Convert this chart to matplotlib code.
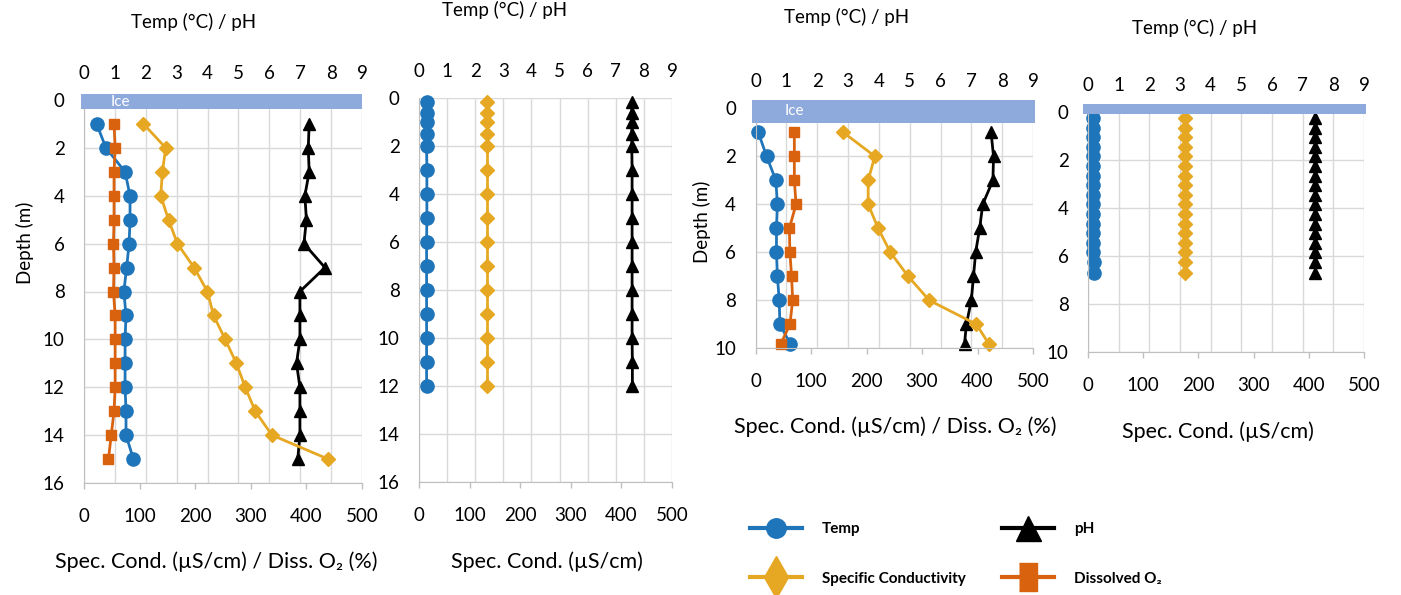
import matplotlib
matplotlib.use("Agg")
import matplotlib.pyplot as plt
from matplotlib.lines import Line2D
from matplotlib.patches import Rectangle

plt.rcParams['font.family'] = ['Lato', 'DejaVu Sans']

W, H = 1401, 595

# ---------------- data ----------------
# Panel 1
depth1 = [1, 2, 3, 4, 5, 6, 7, 8, 9, 10, 11, 12, 13, 14, 15]
temp1 = [0.41, 0.71, 1.33, 1.49, 1.49, 1.46, 1.38, 1.29, 1.36, 1.33, 1.33, 1.33, 1.36, 1.36, 1.60]
ph1 = [7.29, 7.26, 7.29, 7.15, 7.20, 7.12, 7.80, 6.99, 6.99, 6.99, 6.88, 6.99, 6.99, 6.99, 6.92]
sc1 = [107, 147, 141, 138, 152, 168, 198, 222, 233, 254, 274, 290, 308, 338, 439]
do1 = [54, 56, 54, 54, 54, 53, 54, 53, 56, 56, 56, 56, 54, 49, 44]

# Panel 2
depth2 = [0.15, 0.6, 1.0, 1.5, 2.0, 3, 4, 5, 6, 7, 8, 9, 10, 11, 12]
temp2 = [0.27, 0.27, 0.27, 0.27, 0.27, 0.28, 0.28, 0.28, 0.27, 0.27, 0.27, 0.27, 0.27, 0.27, 0.27]
ph2 = [7.57, 7.57, 7.57, 7.57, 7.57, 7.58, 7.58, 7.58, 7.58, 7.58, 7.58, 7.58, 7.58, 7.59, 7.59]
sc2 = [134, 134, 134, 134, 134, 134, 134, 134, 134, 134, 134, 134, 134, 134, 134]

# Panel 3
depth3 = [1, 2, 3, 4, 5, 6, 7, 8, 9, 9.8]
temp3 = [0.09, 0.36, 0.66, 0.71, 0.68, 0.68, 0.71, 0.77, 0.79, 1.12]
ph3 = [7.64, 7.72, 7.70, 7.37, 7.27, 7.14, 7.07, 7.00, 6.84, 6.78]
sc3 = [158, 215, 203, 203, 221, 243, 275, 313, 398, 420]
do3 = [70, 70, 70, 73, 61, 62, 65, 67, 62, 46]

# Panel 4
depth4 = [0.25, 0.65, 1.05, 1.45, 1.85, 2.25, 2.65, 3.05, 3.45, 3.85, 4.25, 4.65, 5.05, 5.45, 5.85, 6.25, 6.7]
temp4 = [0.17, 0.17, 0.17, 0.17, 0.17, 0.17, 0.17, 0.17, 0.17, 0.17, 0.17, 0.17, 0.17, 0.17, 0.17, 0.18, 0.20]
ph4 = [7.40, 7.40, 7.40, 7.40, 7.40, 7.40, 7.40, 7.40, 7.40, 7.40, 7.40, 7.40, 7.40, 7.40, 7.40, 7.40, 7.40]
sc4 = [175, 175, 175, 175, 175, 175, 175, 175, 175, 175, 175, 175, 175, 175, 175, 175, 175]

top_ticks = [0, 1, 2, 3, 4, 5, 6, 7, 8, 9]
bottom_ticks = [0, 100, 200, 300, 400, 500]

# ---------------- style ----------------
C_TEMP = '#1F75BA'
C_SC = '#E6A823'
C_DO = '#D9620F'
C_PH = '#000000'
C_ICE = '#8EA9DB'
C_GRID = '#D9D9D9'
C_AX = '#BFBFBF'
LW = 2.0
TICK_FS = 13.5
TOP_FS = 13.5
BOT_FS = 15.5


def rect(left, right, top, bottom):
    return [left / W, 1 - bottom / H, (right - left) / W, (bottom - top) / H]


fig = plt.figure(figsize=(W / 100, H / 100), dpi=100)


def panel(r, ymax, yticks, depth, temp, ph, sc, do=None, ice=None, ice_text=False):
    ax = fig.add_axes(r)
    ax2 = ax.twiny()
    ax.set_zorder(2)
    ax2.set_zorder(1)
    ax.patch.set_visible(False)
    ax2.patch.set_facecolor('white')

    ax.set_xlim(0, 500)
    ax2.set_xlim(0, 9)
    ax.set_ylim(ymax, 0)

    ax2.yaxis.set_visible(True)
    ax2.set_yticks(yticks)
    ax2.tick_params(axis='y', left=False, right=False, labelleft=False, labelright=False)
    ax2.set_xticks(top_ticks)
    ax2.grid(True, color=C_GRID, lw=1.0)
    for s in ax2.spines.values():
        s.set_visible(False)

    ax.set_xticks(bottom_ticks)
    ax.set_yticks(yticks)
    ax.tick_params(axis='x', direction='out', length=4, width=1, color=C_AX,
                   labelsize=TICK_FS, pad=14)
    ax.tick_params(axis='y', length=0, labelsize=TICK_FS, pad=14)
    ax2.tick_params(axis='x', length=0, labelsize=TICK_FS, pad=13)
    for k in ['top', 'right']:
        ax.spines[k].set_visible(False)
    ax.spines['left'].set_color(C_AX)
    ax.spines['bottom'].set_color(C_AX)

    ax2.plot(temp, depth, color=C_TEMP, lw=LW, marker='o', ms=9.5, clip_on=False)
    ax2.plot(ph, depth, color=C_PH, lw=LW, marker='^', ms=9, clip_on=False)
    ax.plot(sc, depth, color=C_SC, lw=LW, marker='D', ms=7, clip_on=False)
    if do is not None:
        ax.plot(do, depth, color=C_DO, lw=LW, marker='s', ms=7.5, clip_on=False)

    if ice is not None:
        x0, x1, y0, y1 = ice
        ax.add_patch(Rectangle((x0, y0), x1 - x0, y1 - y0, transform=ax2.transData,
                               facecolor=C_ICE, edgecolor='none', clip_on=False, zorder=5))
        if ice_text:
            ax.text(ice_text[0], ice_text[1], 'Ice', transform=ax2.transData, color='white',
                    fontsize=11, ha='center', va='center', zorder=6)
    return ax, ax2


panel(rect(84, 362, 100, 483), 16, list(range(0, 17, 2)), depth1, temp1, ph1, sc1, do1,
      ice=(-0.11, 9.0, -0.24, 0.375), ice_text=(1.17, 0.07))
panel(rect(419, 672, 98.3, 482), 16, list(range(0, 17, 2)), depth2, temp2, ph2, sc2)
panel(rect(755.5, 1033, 108.3, 348.3), 10, list(range(0, 11, 2)), depth3, temp3, ph3, sc3, do3,
      ice=(-0.12, 9.05, -0.35, 0.6), ice_text=(1.25, 0.1))
panel(rect(1088, 1364, 112, 352), 10, list(range(0, 11, 2)), depth4, temp4, ph4, sc4,
      ice=(-0.16, 9.06, -0.32, 0.1))


def ftext(px, py, s, **kw):
    fig.text(px / W, 1 - py / H, s, ha='center', va='center', **kw)


top_label = 'Temp (°C) / pH'
ftext(194, 22, top_label, fontsize=TOP_FS)
ftext(505, 10, top_label, fontsize=TOP_FS)
ftext(846.7, 16.7, top_label, fontsize=TOP_FS)
ftext(1195, 28.3, top_label, fontsize=TOP_FS)

bl1 = 'Spec. Cond. (µS/cm) / Diss. O₂ (%)'
bl2 = 'Spec. Cond. (µS/cm)'
ftext(216.7, 561.7, bl1, fontsize=BOT_FS)
ftext(546.7, 561.7, bl2, fontsize=BOT_FS)
ftext(895.5, 426.7, bl1, fontsize=BOT_FS)
ftext(1218, 431.7, bl2, fontsize=BOT_FS)

ftext(25, 243, 'Depth (m)', fontsize=TOP_FS, rotation=90)
ftext(702, 222, 'Depth (m)', fontsize=TOP_FS, rotation=90)

# ---------------- legend ----------------
rect_marker = [(-2, -3), (2, -3), (2, 3), (-2, 3)]
h_temp = Line2D([], [], color=C_TEMP, lw=3, marker='o', ms=14)
h_sc = Line2D([], [], color=C_SC, lw=3, marker='d', ms=21)
h_ph = Line2D([], [], color=C_PH, lw=3, marker='^', ms=18)
h_do = Line2D([], [], color=C_DO, lw=3, marker=rect_marker, ms=20)

leg_kw = dict(frameon=False, prop={'weight': 'bold', 'size': 11}, handlelength=3.4,
              handletextpad=1.3, labelspacing=2.3, borderpad=0, borderaxespad=0,
              loc='center left')
leg1 = fig.legend([h_temp, h_sc], ['Temp', 'Specific Conductivity'],
                  bbox_to_anchor=(750 / W, 1 - 554 / H), **leg_kw)
leg2 = fig.legend([h_ph, h_do], ['pH', 'Dissolved O₂'],
                  bbox_to_anchor=(1002 / W, 1 - 554 / H), **leg_kw)

fig.savefig('out.png', dpi=100)
